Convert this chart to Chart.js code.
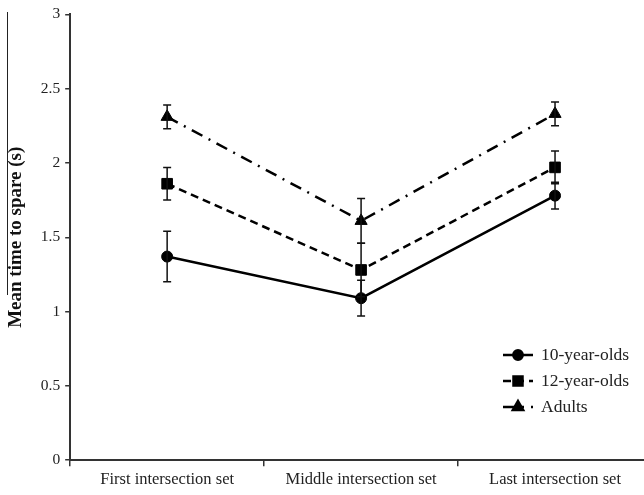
<!DOCTYPE html>
<html>
<head>
<meta charset="utf-8">
<script src="https://cdn.jsdelivr.net/npm/chart.js@4/dist/chart.umd.min.js"></script>
<style>
  html, body { margin: 0; padding: 0; background: #fff; overflow: hidden; }
  #wrap { position: relative; width: 644px; height: 495px; overflow: hidden; }
</style>
</head>
<body>
<div id="wrap"><canvas id="c" width="652" height="495"></canvas></div>
<script>
const categories = ['First intersection set', 'Middle intersection set', 'Last intersection set'];
const seriesLabels = ['10-year-olds', '12-year-olds', 'Adults'];
const kids10 = [1.37, 1.09, 1.78];
const kids10Err = [0.17, 0.12, 0.09];
const kids12 = [1.86, 1.28, 1.97];
const kids12Err = [0.11, 0.18, 0.11];
const adults = [2.31, 1.61, 2.33];
const adultsErr = [0.08, 0.15, 0.08];
const yTicks = [0, 0.5, 1, 1.5, 2, 2.5, 3];

const SERIF = '"Liberation Serif", "Times New Roman", serif';

const errorBars = {
  id: 'errorBars',
  afterDatasetsDraw(chart) {
    const ctx = chart.ctx;
    const y = chart.scales.y;
    ctx.save();
    ctx.strokeStyle = '#111';
    ctx.lineWidth = 1.5;
    ctx.setLineDash([]);
    chart.data.datasets.forEach((ds, i) => {
      const meta = chart.getDatasetMeta(i);
      meta.data.forEach((pt, j) => {
        const v = ds.data[j], e = ds.errors[j];
        const yTop = y.getPixelForValue(v + e);
        const yBot = y.getPixelForValue(v - e);
        const x = pt.x;
        ctx.beginPath();
        ctx.moveTo(x, yTop); ctx.lineTo(x, yBot);
        ctx.moveTo(x - 4, yTop); ctx.lineTo(x + 4, yTop);
        ctx.moveTo(x - 4, yBot); ctx.lineTo(x + 4, yBot);
        ctx.stroke();
      });
    });
    ctx.restore();
  }
};

const customLegend = {
  id: 'customLegend',
  afterDraw(chart) {
    const ctx = chart.ctx;
    ctx.save();
    const x0 = 503, x1 = 533, tx = 541;
    const rows = [355, 381, 407];
    chart.data.datasets.forEach((ds, i) => {
      const yy = rows[i];
      ctx.strokeStyle = '#000';
      ctx.lineWidth = ds.borderWidth;
      ctx.setLineDash(ds.borderDash || []);
      ctx.beginPath();
      ctx.moveTo(x0, yy); ctx.lineTo(x1, yy);
      ctx.stroke();
      ctx.setLineDash([]);
      Chart.helpers.drawPoint(ctx, {
        pointStyle: ds.pointStyle, radius: ds.pointRadius * 0.85, borderWidth: 1
      }, (x0 + x1) / 2, yy);
      ctx.fillStyle = '#000';
      ctx.fill();
      ctx.fillStyle = '#222';
      ctx.font = '17.5px ' + SERIF;
      ctx.textBaseline = 'middle';
      ctx.textAlign = 'left';
      ctx.fillText(ds.label, tx, yy);
    });
    // stray vertical rule at the left edge of the figure
    ctx.strokeStyle = '#222';
    ctx.lineWidth = 1;
    ctx.beginPath();
    ctx.moveTo(7.5, 12); ctx.lineTo(7.5, 295);
    ctx.stroke();
    ctx.restore();
  }
};

const common = { borderColor: '#000', backgroundColor: '#000', pointBackgroundColor: '#000',
  pointBorderColor: '#000', fill: false, tension: 0, borderWidth: 2.5, pointBorderWidth: 1 };

new Chart(document.getElementById('c'), {
  type: 'line',
  data: {
    labels: categories,
    datasets: [
      Object.assign({}, common, { label: seriesLabels[0], data: kids10, errors: kids10Err,
        pointStyle: 'circle', pointRadius: 5.5, borderDash: [] }),
      Object.assign({}, common, { label: seriesLabels[1], data: kids12, errors: kids12Err,
        pointStyle: 'rect', pointRadius: 7.5, borderDash: [8, 5] }),
      Object.assign({}, common, { label: seriesLabels[2], data: adults, errors: adultsErr,
        pointStyle: 'triangle', pointRadius: 7, borderDash: [12, 7, 2, 7] })
    ]
  },
  options: {
    responsive: false,
    animation: false,
    layout: { autoPadding: false, padding: { left: 4, top: 12, right: 0, bottom: 1 } },
    plugins: { legend: { display: false }, tooltip: { enabled: false } },
    scales: {
      x: {
        type: 'category',
        offset: true,
        afterFit: (axis) => { axis.paddingLeft = 0; axis.paddingRight = 0; },
        grid: { display: true, drawOnChartArea: false, drawTicks: true, tickLength: 6,
          color: '#333', lineWidth: 1.5, offset: true },
        border: { display: true, color: '#333', width: 2 },
        ticks: { color: '#222', font: { family: SERIF, size: 16.5 }, padding: 4, maxRotation: 0 }
      },
      y: {
        min: 0, max: 3,
        afterBuildTicks: (axis) => { axis.ticks = yTicks.map(v => ({ value: v })); },
        grid: { display: true, drawOnChartArea: false, drawTicks: true, tickLength: 5,
          color: '#333', lineWidth: 1.5 },
        border: { display: true, color: '#333', width: 2 },
        ticks: { color: '#222', font: { family: SERIF, size: 15.5 }, padding: 5,
          callback: (v) => String(v) },
        title: { display: true, text: 'Mean time to spare (s)', color: '#111',
          font: { family: SERIF, size: 19, weight: 'bold' }, padding: { top: 1, bottom: 8 } }
      }
    }
  },
  plugins: [errorBars, customLegend]
});
</script>
</body>
</html>
